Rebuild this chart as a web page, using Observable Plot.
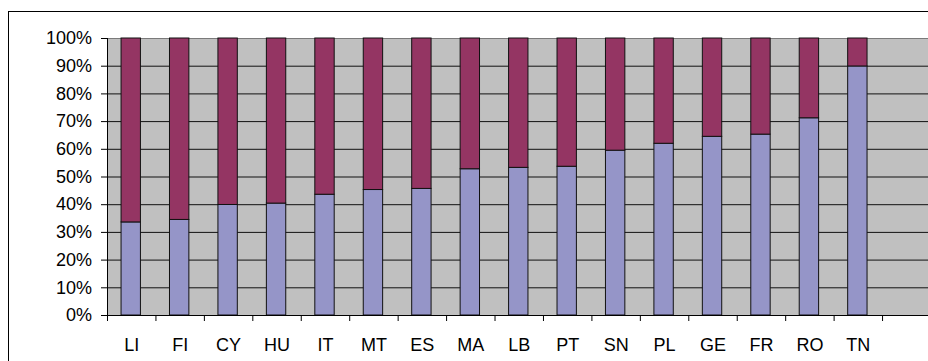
<!DOCTYPE html>
<html>
<head>
<meta charset="utf-8">
<script src="https://cdn.jsdelivr.net/npm/d3@7"></script>
<script src="https://cdn.jsdelivr.net/npm/@observablehq/plot@0.6"></script>
<style>
  html, body { margin: 0; padding: 0; background: #fff; }
  #wrap { position: relative; width: 928px; height: 361px; overflow: hidden; }
  #wrap svg { position: absolute; left: 0; top: 0; }
  #chart-border {
    position: absolute; left: 8px; top: 11px; width: 1000px; height: 500px;
    border-left: 1.3px solid #000; border-top: 1.3px solid #000;
    pointer-events: none;
  }
</style>
</head>
<body>
<div id="wrap"></div>
<script>
// Country codes, sorted by the share of the lower segment
const countries = ["LI", "FI", "CY", "HU", "IT", "MT", "ES", "MA", "LB", "PT", "SN", "PL", "GE", "FR", "RO", "TN"];
// Lower (blue) segment share, in percent; the upper segment fills to 100%
const lowerShare = [33.6, 34.5, 39.9, 40.4, 43.6, 45.3, 45.7, 52.8, 53.3, 53.7, 59.5, 62.0, 64.5, 65.3, 71.2, 89.9];
// Percent ticks on the value axis
const yTicks = [0, 10, 20, 30, 40, 50, 60, 70, 80, 90, 100];

const rows = countries.map((country, i) => ({country, slot: i, lower: lowerShare[i]}));
const slots = d3.range(countries.length + 1); // category boundaries, one spare slot at the end

const chart = Plot.plot({
  width: 928,
  height: 361,
  marginTop: 38,
  marginBottom: 46,
  marginLeft: 107,
  marginRight: 0,
  x: {domain: [0, countries.length + 1], range: [107, 930.5]},
  y: {domain: [0, 100]},
  style: {fontFamily: "'Liberation Sans', Arial, sans-serif", fontSize: "18px", color: "#000"},
  marks: [
    Plot.frame({fill: "#c0c0c0", stroke: "none"}),
    Plot.ruleY(yTicks.filter(t => t > 0 && t < 100), {stroke: "#111", strokeOpacity: 1}),
    Plot.ruleY([100], {stroke: "#7a7a7a"}),
    Plot.rectY(rows, {x1: d => d.slot + 0.29, x2: d => d.slot + 0.69, y1: 0, y2: "lower", fill: "#9595c8", stroke: "#111", strokeWidth: 1}),
    Plot.rectY(rows, {x1: d => d.slot + 0.29, x2: d => d.slot + 0.69, y1: "lower", y2: 100, fill: "#943563", stroke: "#111", strokeWidth: 1}),
    Plot.axisY({ticks: yTicks, tickSize: 6, tickPadding: 9.5, tickFormat: d => d + "%", strokeOpacity: 1, label: null}),
    Plot.axisX({ticks: slots, tickSize: 6, tickFormat: () => "", strokeOpacity: 1, label: null}),
    Plot.axisX({ticks: countries.map((c, i) => i + 0.5), tickSize: 0, tickPadding: 23, tickFormat: v => countries[Math.floor(v)], label: null}),
    Plot.ruleX([0], {stroke: "#000"}),
    Plot.ruleY([0], {stroke: "#000"})
  ]
});

const wrap = document.getElementById("wrap");
wrap.appendChild(chart);
const border = document.createElement("div");
border.id = "chart-border";
wrap.appendChild(border);
</script>
</body>
</html>
